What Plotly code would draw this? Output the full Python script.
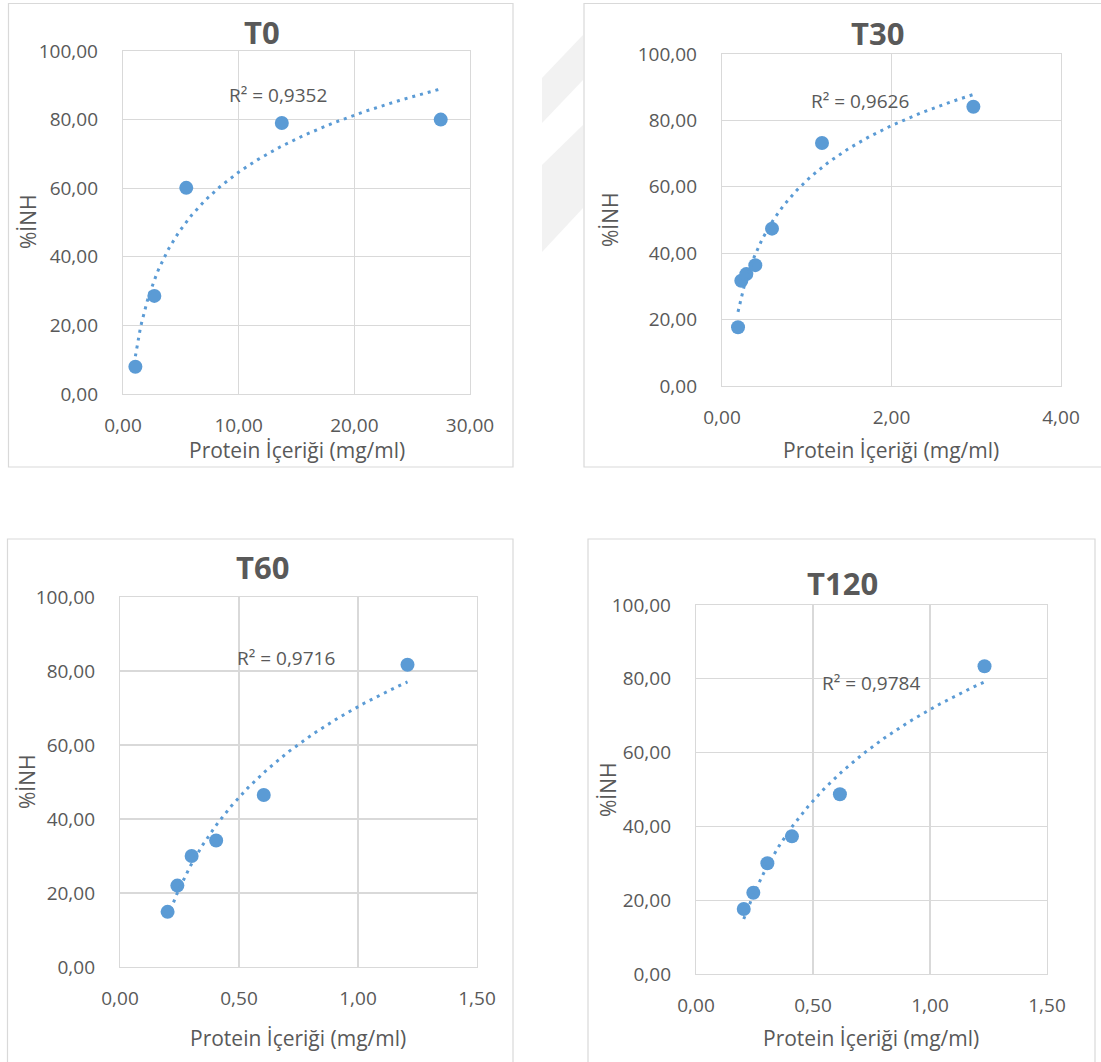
import numpy as np
import plotly.graph_objects as go

# ---------------- data ----------------
t0_x = [1.07, 2.71, 5.47, 13.73, 27.47]
t0_y = [7.95, 28.6, 60.1, 79.0, 80.0]

t30_x = [0.189, 0.228, 0.287, 0.393, 0.590, 1.18, 2.966]
t30_y = [17.7, 31.7, 33.7, 36.4, 47.4, 73.2, 84.1]

t60_x = [0.200, 0.241, 0.301, 0.404, 0.604, 1.208]
t60_y = [14.9, 22.0, 30.0, 34.2, 46.5, 81.7]

t120_x = [0.204, 0.245, 0.305, 0.410, 0.615, 1.233]
t120_y = [17.6, 22.0, 30.0, 37.3, 48.7, 83.4]

titles = ["T0", "T30", "T60", "T120"]
r2_labels = ["R² = 0,9352", "R² = 0,9626", "R² = 0,9716", "R² = 0,9784"]
x_ranges = [[0, 30], [0, 4], [0, 1.5], [0, 1.5]]
x_dticks = [10, 2, 0.5, 0.5]
y_range = [0, 100]
y_dtick = 20
x_title = "Protein İçeriği (mg/ml)"
y_title = "%İNH"

series = [(t0_x, t0_y), (t30_x, t30_y), (t60_x, t60_y), (t120_x, t120_y)]

# ---------------- layout geometry (pixels in the 1101x1062 page) ----------------
W, H = 1101, 1062
def px(x):
    return x / W
def py(y):
    return 1 - y / H

# plot areas: (left, right, top, bottom)
plots = [(123, 470, 51, 394), (722, 1061, 54, 386), (120, 477, 597, 967), (696, 1047, 605, 974)]
# chart boxes
boxes = [(8.5, 513, 3.5, 467), (584, 1108, 3.5, 467), (7.5, 513, 539, 1075), (588, 1095, 539, 1075)]
title_pos = [(262, 32), (877, 33), (262, 567), (842, 583)]
r2_pos = [(278, 95), (860, 101), (286, 658), (871, 683)]
xt_pos = [(297, 450), (891, 450), (298, 1038), (871, 1038)]
yt_pos = [(28, 222), (610, 220), (27, 782), (608, 790)]

BLUE = "#5B9BD5"
TXT = "#595959"
GRID = "#D9D9D9"
FONT = "Open Sans"

fig = go.Figure()
shapes = []

# faint watermark bands in the gap between top charts
wm = [
    [(542, 78), (583, 35), (583, 80), (542, 123)],
    [(542, 165), (583, 125), (583, 208), (542, 252)],
]
for poly in wm:
    path = "M " + " L ".join(f"{px(a):.5f},{py(b):.5f}" for a, b in poly) + " Z"
    shapes.append(dict(type="path", xref="paper", yref="paper", path=path,
                       fillcolor="#F2F2F2", line=dict(width=0), layer="below"))

for (l, r, t, b) in boxes:
    shapes.append(dict(type="rect", xref="paper", yref="paper",
                       x0=px(l), x1=px(r), y0=py(b), y1=py(t),
                       fillcolor="white", line=dict(color=GRID, width=1.2), layer="below"))

annotations = []
for i, ((xs, ys), (l, r, t, b)) in enumerate(zip(series, plots)):
    sfx = "" if i == 0 else str(i + 1)
    xa = "x" + sfx
    ya = "y" + sfx
    # logarithmic trendline (least squares on ln x)
    xs_a = np.array(xs)
    ys_a = np.array(ys)
    a, c = np.polyfit(np.log(xs_a), ys_a, 1)
    xx = np.linspace(xs_a.min(), xs_a.max(), 200)
    yy = a * np.log(xx) + c
    fig.add_trace(go.Scatter(x=xs, y=ys, mode="markers", xaxis=xa, yaxis=ya,
                             marker=dict(color=BLUE, size=14, line=dict(width=0)),
                             showlegend=False, hoverinfo="skip"))
    fig.add_trace(go.Scatter(x=xx, y=yy, mode="lines", xaxis=xa, yaxis=ya,
                             line=dict(color=BLUE, width=3, dash="3px,5px"),
                             showlegend=False, hoverinfo="skip"))
    axcommon = dict(showgrid=True, gridcolor=GRID, gridwidth=1.2,
                    showline=True, mirror=True, linecolor=GRID, linewidth=1.2,
                    zeroline=False, tickformat=".2f", automargin=False,
                    tickfont=dict(family=FONT, size=19, color=TXT),
                    ticks="outside", tickcolor="rgba(0,0,0,0)")
    fig.layout["xaxis" + sfx] = dict(axcommon, domain=[px(l), px(r)], anchor=ya,
                                     range=x_ranges[i], dtick=x_dticks[i], tick0=0,
                                     ticklen=14)
    fig.layout["yaxis" + sfx] = dict(axcommon, domain=[py(b), py(t)], anchor=xa,
                                     range=y_range, dtick=y_dtick, tick0=0,
                                     ticklen=20)
    tx, ty = title_pos[i]
    annotations.append(dict(text="<b>" + titles[i] + "</b>", xref="paper", yref="paper",
                            x=px(tx), y=py(ty), xanchor="center", yanchor="middle",
                            showarrow=False, font=dict(family=FONT, size=31, color=TXT)))
    rx, ry = r2_pos[i]
    annotations.append(dict(text=r2_labels[i], xref="paper", yref="paper",
                            x=px(rx), y=py(ry), xanchor="center", yanchor="middle",
                            showarrow=False, font=dict(family=FONT, size=19, color=TXT)))
    ax_, ay_ = xt_pos[i]
    annotations.append(dict(text=x_title, xref="paper", yref="paper",
                            x=px(ax_), y=py(ay_), xanchor="center", yanchor="middle",
                            showarrow=False, font=dict(family=FONT, size=21, color=TXT)))
    yx, yy_ = yt_pos[i]
    annotations.append(dict(text=y_title, xref="paper", yref="paper",
                            x=px(yx), y=py(yy_), xanchor="center", yanchor="middle",
                            textangle=-90, showarrow=False,
                            font=dict(family=FONT, size=21, color=TXT)))

fig.update_layout(width=W, height=H, margin=dict(l=0, r=0, t=0, b=0, pad=0, autoexpand=False),
                  autosize=False, hovermode=False,
                  paper_bgcolor="white", plot_bgcolor="white",
                  separators=",.", shapes=shapes, annotations=annotations,
                  showlegend=False)

fig.write_html("out.html",
               config={"displayModeBar": False, "staticPlot": True},
               post_script="document.body.style.margin='0';document.body.style.overflow='hidden';")
